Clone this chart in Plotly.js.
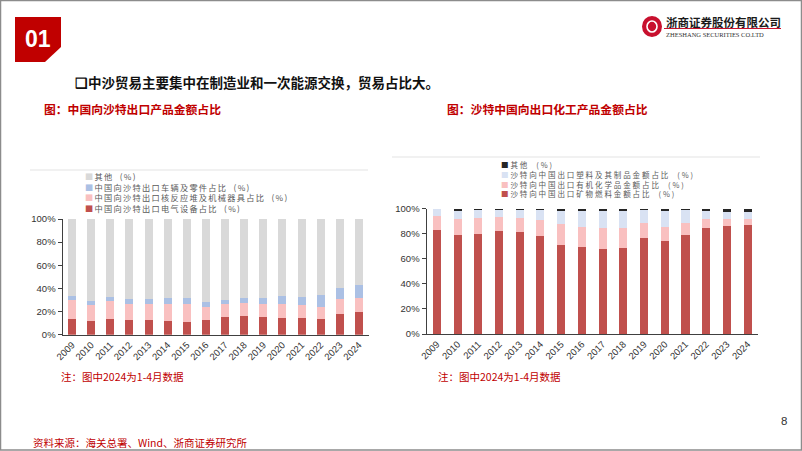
<!DOCTYPE html>
<html>
<head>
<meta charset="utf-8">
<script src="https://cdn.plot.ly/plotly-3.0.1.min.js"></script>
<style>html,body{margin:0;padding:0;background:#fff;}#chart{width:802px;height:451px;}</style>
</head>
<body>
<div id="chart"></div>
<script>
// ---------- data ----------
const years = ['2009','2010','2011','2012','2013','2014','2015','2016','2017','2018','2019','2020','2021','2022','2023','2024'];

// Left chart: China exports to Saudi Arabia (share, %)
const leftNames = ['中国向沙特出口电气设备占比  (%)', '中国向沙特出口核反应堆及机械器具占比  (%)', '中国向沙特出口车辆及零件占比  (%)', '其他  (%)'];
const leftElectrical = [13.8, 12.1, 13.8, 12.7, 12.4, 11.5, 11.2, 12.4, 15.0, 16.4, 15.0, 14.4, 14.7, 13.5, 18.2, 19.6];
const leftMachinery  = [16.2, 13.9, 15.0, 13.5, 13.8, 15.3, 15.0, 11.5, 11.8, 11.0, 11.5, 12.4, 10.7, 10.7, 12.3, 12.1];
const leftVehicles   = [3.7, 2.8, 3.8, 4.6, 4.6, 4.9, 5.2, 4.1, 3.2, 4.3, 5.2, 6.3, 7.5, 10.1, 9.6, 11.5];
const leftOther      = [66.3, 71.2, 67.4, 69.2, 69.2, 68.3, 68.6, 72.0, 70.0, 68.3, 68.3, 66.9, 67.1, 65.7, 59.9, 56.8];

// Right chart: Saudi exports to China (share, %)
const rightNames = ['沙特向中国出口矿物燃料金额占比  (%)', '沙特向中国出口有机化学品金额占比  (%)', '沙特向中国出口塑料及其制品金额占比  (%)', '其他  (%)'];
const rightFuel     = [82.8, 79.3, 80.1, 82.2, 81.4, 78.5, 70.8, 69.5, 67.6, 68.4, 76.4, 74.3, 79.0, 84.9, 85.9, 86.7];
const rightOrganic  = [11.6, 12.2, 12.7, 11.2, 10.9, 12.2, 17.0, 15.6, 17.0, 16.2, 11.9, 11.4, 9.9, 6.9, 5.9, 4.8];
const rightPlastics = [5.1, 6.9, 6.1, 5.8, 6.6, 8.5, 10.3, 12.8, 13.5, 13.5, 10.4, 12.4, 9.8, 6.6, 5.8, 5.6];
const rightOther    = [0.5, 1.6, 1.1, 0.8, 1.1, 0.8, 1.9, 2.1, 1.9, 1.9, 1.3, 1.9, 1.3, 1.6, 2.4, 2.9];

// ---------- styles ----------
const leftColors  = ['#c0504d', '#f9c0c0', '#abc0e4', '#d9d9d9'];
const rightColors = ['#c0504d', '#f9c0c0', '#d9e2f3', '#262626'];
const W = 802, H = 451;
const px = x => x / W;
const py = y => 1 - y / H;
const cjk = '"Noto Sans CJK SC", "Noto Sans", sans-serif';
const latin = '"Liberation Sans", Arial, sans-serif';

const leftSeries = [leftElectrical, leftMachinery, leftVehicles, leftOther];
const rightSeries = [rightFuel, rightOrganic, rightPlastics, rightOther];

const traces = [];
leftSeries.forEach((vals, i) => traces.push({
  type: 'bar', x: years, y: vals, name: leftNames[i], xaxis: 'x', yaxis: 'y',
  marker: {color: leftColors[i], line: {width: 0}}, width: 0.42, hoverinfo: 'y+name'
}));
rightSeries.forEach((vals, i) => traces.push({
  type: 'bar', x: years, y: vals, name: rightNames[i], xaxis: 'x2', yaxis: 'y2',
  marker: {color: rightColors[i], line: {width: 0}}, width: 0.39, hoverinfo: 'y+name'
}));

function pathFrom(points) {
  return 'M ' + points.map(p => px(p[0]) + ' ' + py(p[1])).join(' L ') + ' Z';
}

const axisX = {
  type: 'category', tickangle: -45, showline: true, linecolor: '#404040', linewidth: 1,
  ticks: '', showgrid: false, zeroline: false,
  tickfont: {family: latin, size: 9.5, color: '#333'}, fixedrange: true
};
const axisY = {
  range: [0, 100], dtick: 20, ticksuffix: '%', showline: true, linecolor: '#404040', linewidth: 1,
  ticks: 'outside', ticklen: 4, tickcolor: '#404040', showgrid: false, zeroline: false,
  tickfont: {family: latin, size: 9.5, color: '#333'}, fixedrange: true
};

const annotations = [];
function addText(text, x, y, size, color, opts) {
  annotations.push(Object.assign({
    text: text, x: px(x), y: py(y), xref: 'paper', yref: 'paper',
    xanchor: 'left', yanchor: 'middle', showarrow: false,
    font: {family: cjk, size: size, color: color}
  }, opts || {}));
}

// header items
addText('<b>01</b>', 38, 39, 22, '#ffffff', {xanchor: 'center', font: {family: latin, size: 23, color: '#fff'}});
addText('<b>浙商证券股份有限公司</b>', 664, 22, 11.5, '#1a1a1a');
addText('ZHESHANG SECURITIES CO.LTD', 664, 34, 6.5, '#333', {font: {family: '"Liberation Serif", serif', size: 6.5, color: '#333'}});
addText('<b>❑中沙贸易主要集中在制造业和一次能源交换，贸易占比大。</b>', 73, 82, 13.5, '#111');
addText('<b>图：中国向沙特出口产品金额占比</b>', 42, 108, 11.8, '#c00000');
addText('<b>图：沙特中国向出口化工产品金额占比</b>', 445, 108, 11.8, '#c00000');

// legends (top item = last series), one multi-line block each
function legendBlock(names, colors, spacing) {
  const lines = [];
  for (let i = names.length - 1; i >= 0; i--) {
    lines.push('<span style="letter-spacing:' + spacing + 'px"><span style="color:' + colors[i] + '">■</span>' + names[i] + '</span>');
  }
  return lines.join('<br>');
}
addText(legendBlock(leftNames, leftColors, 1.3), 84, 191.7, 8.2, '#595959', {align: 'left', borderpad: 0});
addText(legendBlock(rightNames, rightColors, 1.9), 500, 179.2, 7.5, '#595959', {align: 'left', borderpad: 0});

// notes
addText('注：图中2024为1-4月数据', 59, 376, 10.5, '#c00000');
addText('注：图中2024为1-4月数据', 436, 376, 10.5, '#c00000');
addText('资料来源：海关总署、Wind、浙商证券研究所', 31, 442, 10.5, '#c00000');
addText('8', 779, 421, 11, '#333', {font: {family: latin, size: 11.5, color: '#333'}});

const shapes = [
  // page frame
  {type: 'rect', xref: 'paper', yref: 'paper', x0: px(0.5), x1: px(801.5), y0: py(0.5), y1: py(450), line: {color: '#8c8c8c', width: 1.5}, fillcolor: 'rgba(0,0,0,0)'},
  // red "01" box with cut corner
  {type: 'path', xref: 'paper', yref: 'paper', path: pathFrom([[15,17],[61,17],[61,47],[45,62],[15,62]]), fillcolor: '#c00000', line: {width: 0}},
  // logo mark
  {type: 'circle', xref: 'paper', yref: 'paper', x0: px(642), x1: px(662), y0: py(37), y1: py(16), fillcolor: '#c8102e', line: {width: 0}},
  {type: 'circle', xref: 'paper', yref: 'paper', x0: px(647), x1: px(657), y0: py(32), y1: py(21), fillcolor: 'rgba(0,0,0,0)', line: {color: '#fff', width: 1.6}},
  {type: 'line', xref: 'paper', yref: 'paper', x0: px(664), x1: px(781), y0: py(28.5), y1: py(28.5), line: {color: '#c8102e', width: 1}},
  // thin separators above legends
  {type: 'line', xref: 'paper', yref: 'paper', x0: px(30), x1: px(368), y0: py(170), y1: py(170), line: {color: '#e3e3e3', width: 1}},
  {type: 'line', xref: 'paper', yref: 'paper', x0: px(392), x1: px(760), y0: py(157), y1: py(157), line: {color: '#e3e3e3', width: 1}}
];

const layout = {
  width: W, height: H, margin: {l: 0, r: 0, t: 0, b: 0},
  paper_bgcolor: '#fff', plot_bgcolor: 'rgba(0,0,0,0)',
  barmode: 'stack', showlegend: false,
  xaxis: Object.assign({}, axisX, {domain: [px(62.5), px(368.5)], anchor: 'y'}),
  yaxis: Object.assign({}, axisY, {domain: [py(334.7), py(219)], anchor: 'x'}),
  xaxis2: Object.assign({}, axisX, {domain: [px(426.5), px(758)], anchor: 'y2'}),
  yaxis2: Object.assign({}, axisY, {domain: [py(334), py(208.7)], anchor: 'x2'}),
  annotations: annotations, shapes: shapes,
  font: {family: cjk}
};

Plotly.newPlot('chart', traces, layout, {staticPlot: true, displayModeBar: false});
</script>
</body>
</html>
